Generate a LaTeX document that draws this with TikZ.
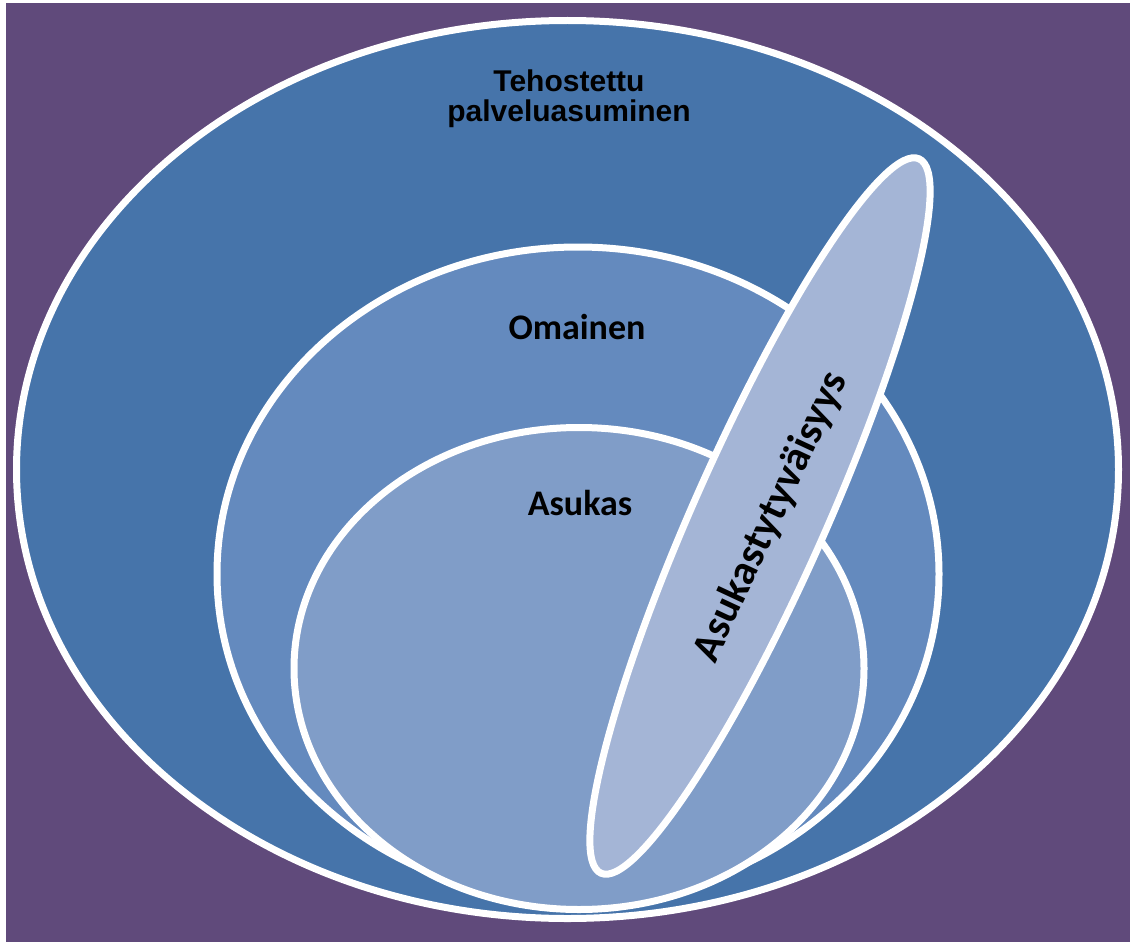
\documentclass[tikz,border=0pt]{standalone}
\usepackage{fontspec}
\setmainfont{Carlito}
\newfontfamily\arialfont{Liberation Sans}
\usetikzlibrary{shadows}
\definecolor{bgpurple}{RGB}{96,74,123}
\definecolor{outerblue}{RGB}{70,116,170}
\definecolor{midblue}{RGB}{100,138,190}
\definecolor{innerblue}{RGB}{128,157,200}
\definecolor{paleblue}{RGB}{164,181,214}
\tikzset{
  ring/.style={draw=white, line width=7pt, drop shadow={opacity=0.35, shadow xshift=0pt, shadow yshift=-3pt}},
  biglabel/.style={font=\arialfont\bfseries\fontsize{30}{30}\selectfont, align=center, text=black},
  calilabel/.style={font=\bfseries\fontsize{36}{38}\selectfont, text=black},
  rotlabel/.style={font=\bfseries\fontsize{42}{46}\selectfont, text=black}
}
\begin{document}
\begin{tikzpicture}[x=1pt,y=-1pt]
\useasboundingbox (0,0) rectangle (1130,942);
\fill[white] (0,0) rectangle (1130,942);
\fill[bgpurple] (6,3) rectangle (1130,942);
% outer ellipse
\path[ring, fill=outerblue] (567.5,469.5) ellipse [x radius=551pt, y radius=449pt];
% Omainen ellipse
\path[ring, fill=midblue] (578,574) ellipse [x radius=361pt, y radius=327pt];
% Asukas ellipse
\path[ring, fill=innerblue] (579,668.5) ellipse [x radius=285pt, y radius=241pt];
% rotated ellipse
\path[ring, fill=paleblue, shift={(760,516)}, rotate=66] (0,0) ellipse [x radius=391pt, y radius=66pt];
% labels
\node[biglabel] (teho) at (569,99) {Tehostettu\\palveluasuminen};
\node[calilabel] (omainen) at (577,327) {Omainen};
\node[calilabel] (asukas) at (580,503) {Asukas};
\node[rotlabel, rotate=65] (tyyt) at (771,517) {Asukastytyväisyys};
\end{tikzpicture}
\end{document}
